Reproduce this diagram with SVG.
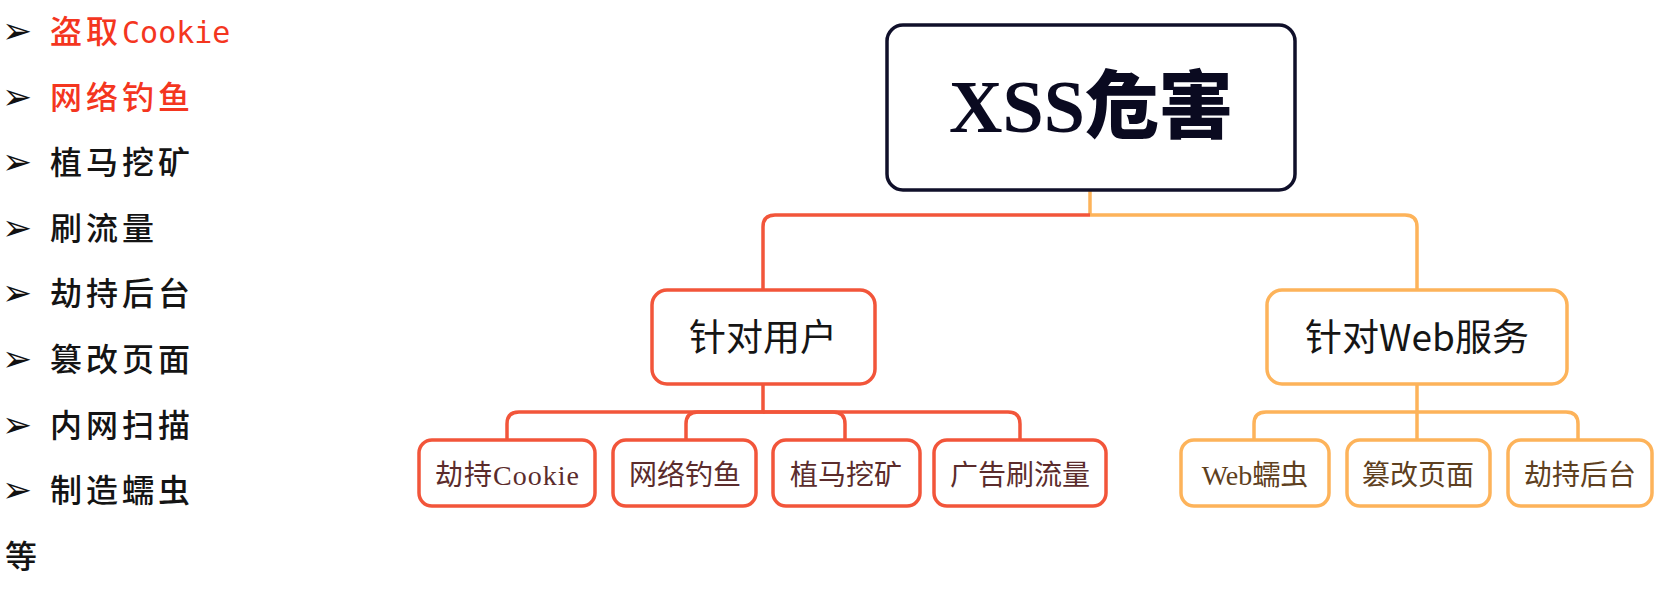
<svg xmlns="http://www.w3.org/2000/svg" width="1674" height="590" viewBox="0 0 1674 590">
<style>
.li{font-family:"Noto Sans CJK SC","Noto Sans",sans-serif;font-size:32px;font-weight:500;letter-spacing:4px;fill:#141414}
.red{fill:#f4361f}
.bul{font-family:"DejaVu Sans",sans-serif;font-size:36px;font-weight:bold;fill:#111}
.mono{font-family:"DejaVu Sans Mono","Liberation Mono",monospace;letter-spacing:0}
.cr{fill:none;stroke:#f2553a;stroke-width:3.5}
.co{fill:none;stroke:#fdb35a;stroke-width:3.5}
.nr{fill:#fff;stroke:#f2553a;stroke-width:3.5}
.no{fill:#fff;stroke:#fdb35a;stroke-width:3.5}
.mid{font-family:"Noto Sans CJK SC","Noto Sans",sans-serif;font-size:37px;fill:#151515;text-anchor:middle}
.leaf{font-family:"Liberation Serif","Noto Sans CJK SC",serif;font-size:28px;text-anchor:middle}
.lr{fill:#5b2c2c}
.lo{fill:#5e4020}
</style>
<rect width="1674" height="590" fill="#fff"/>
<g id="list">
<text class="bul red" x="2" y="43">➢</text><text class="li red" x="50" y="43">盗取<tspan class="mono" font-size="30">Cookie</tspan></text>
<text class="bul red" x="2" y="108.6">➢</text><text class="li red" x="50" y="108.6">网络钓鱼</text>
<text class="bul" x="2" y="174.2">➢</text><text class="li" x="50" y="174.2">植马挖矿</text>
<text class="bul" x="2" y="239.8">➢</text><text class="li" x="50" y="239.8">刷流量</text>
<text class="bul" x="2" y="305.4">➢</text><text class="li" x="50" y="305.4">劫持后台</text>
<text class="bul" x="2" y="371">➢</text><text class="li" x="50" y="371">篡改页面</text>
<text class="bul" x="2" y="436.6">➢</text><text class="li" x="50" y="436.6">内网扫描</text>
<text class="bul" x="2" y="502.2">➢</text><text class="li" x="50" y="502.2">制造蠕虫</text>
<text class="li" x="5" y="567.8">等</text>
</g>
<g id="connectors">
<path class="co" d="M1090,190 V215"/>
<path class="cr" d="M1090,215 H775 Q763,215 763,227 V290"/>
<path class="co" d="M1090,215 H1405 Q1417,215 1417,227 V290"/>
<path class="cr" d="M763,384 V412 H519 Q507,412 507,424 V440"/>
<path class="cr" d="M763,412 H698 Q686,412 686,424 V440"/>
<path class="cr" d="M763,412 H833 Q845,412 845,424 V440"/>
<path class="cr" d="M763,412 H1008 Q1020,412 1020,424 V440"/>
<path class="co" d="M1417,384 V440"/>
<path class="co" d="M1417,412 H1266 Q1254,412 1254,424 V440"/>
<path class="co" d="M1417,412 H1566 Q1578,412 1578,424 V440"/>
</g>
<g id="root">
<rect x="887" y="25" width="408" height="165" rx="16" fill="#fff" stroke="#10102a" stroke-width="3.5"/>
<text x="1091" y="132" text-anchor="middle" font-size="74" font-weight="bold" fill="#0a0a20"><tspan font-family="Liberation Serif,serif">XSS</tspan><tspan font-family="Noto Sans CJK SC,sans-serif" font-weight="900">危害</tspan></text>
</g>
<g id="user">
<rect class="nr" x="652" y="290" width="223" height="94" rx="15"/>
<text class="mid" x="763" y="351">针对用户</text>
</g>
<g id="web">
<rect class="no" x="1267" y="290" width="300" height="94" rx="15"/>
<text class="mid" x="1417" y="351">针对Web服务</text>
</g>
<g id="u1"><rect class="nr" x="419" y="440" width="176" height="66" rx="13"/><text class="leaf lr" x="507" y="485" textLength="144" lengthAdjust="spacing">劫持Cookie</text></g>
<g id="u2"><rect class="nr" x="613" y="440" width="143" height="66" rx="13"/><text class="leaf lr" x="685" y="485">网络钓鱼</text></g>
<g id="u3"><rect class="nr" x="773" y="440" width="147" height="66" rx="13"/><text class="leaf lr" x="846" y="485">植马挖矿</text></g>
<g id="u4"><rect class="nr" x="934" y="440" width="172" height="66" rx="13"/><text class="leaf lr" x="1020" y="485">广告刷流量</text></g>
<g id="w1"><rect class="no" x="1181" y="440" width="148" height="66" rx="13"/><text class="leaf lo" x="1255" y="485">Web蠕虫</text></g>
<g id="w2"><rect class="no" x="1347" y="440" width="143" height="66" rx="13"/><text class="leaf lo" x="1418" y="485">篡改页面</text></g>
<g id="w3"><rect class="no" x="1508" y="440" width="144" height="66" rx="13"/><text class="leaf lo" x="1580" y="485">劫持后台</text></g>
</svg>
